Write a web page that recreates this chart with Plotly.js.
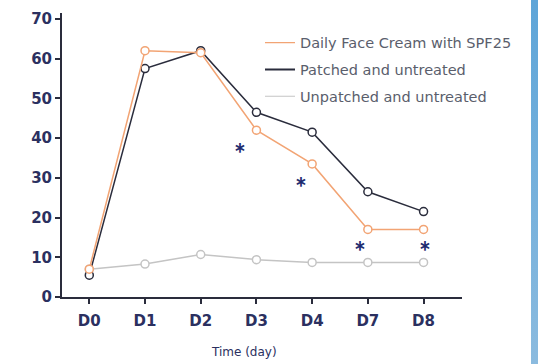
<!DOCTYPE html>
<html>
<head>
<meta charset="utf-8">
<script src="https://cdn.plot.ly/plotly-3.0.1.min.js"></script>
<style>
  html, body { margin: 0; padding: 0; background: #ffffff; }
  #wrap { position: relative; width: 538px; height: 364px; overflow: hidden; }
  #chart { position: absolute; left: 0; top: 0; width: 531px; height: 364px; }
  #strip { position: absolute; left: 531px; top: 0; width: 7px; height: 364px;
           background: linear-gradient(#5ea5d8, #8bbbdf); }
</style>
</head>
<body>
<div id="wrap"><div id="chart"></div><div id="strip"></div></div>
<script>
const categories = ["D0", "D1", "D2", "D3", "D4", "D7", "D8"];
const creamSPF25 = [7, 62, 61.5, 42, 33.5, 17, 17];
const patchedUntreated = [5.5, 57.5, 62, 46.5, 41.5, 26.5, 21.5];
const unpatchedUntreated = [7, 8.3, 10.7, 9.4, 8.7, 8.7, 8.7];
const seriesNames = ["Daily Face Cream with SPF25", "Patched and untreated", "Unpatched and untreated"];
const significantDays = ["D3", "D4", "D7", "D8"];
const asteriskValues = [37.8, 29.2, 13.1, 13.1];
const asteriskShift = [-16, -11, -8, 1];
const xTitle = "Time (day)";

const colors = ["#f2a474", "#2a2c3c", "#c4c4c4"];
const navy = "#2b3060";
const wideFont = "'DejaVu Sans', sans-serif";

function series(y, i) {
  return {
    x: categories, y: y, type: "scatter", mode: "lines+markers",
    name: seriesNames[i], showlegend: false,
    line: {color: colors[i], width: 1.5},
    marker: {symbol: "circle", size: 8, color: "#ffffff", line: {color: colors[i], width: 1.5}},
    cliponaxis: false
  };
}
function legendEntry(i) {
  return {
    x: [null], y: [null], type: "scatter", mode: "lines",
    name: seriesNames[i], showlegend: true, legendgroup: "g" + i,
    line: {color: colors[i], width: i === 1 ? 2 : 1.2}
  };
}

const traces = [
  series(unpatchedUntreated, 2),
  series(patchedUntreated, 1),
  series(creamSPF25, 0),
  legendEntry(0), legendEntry(1), legendEntry(2)
];

const annotations = significantDays.map((d, k) => ({
  x: d, y: asteriskValues[k], xref: "x", yref: "y", text: "*",
  showarrow: false, xshift: asteriskShift[k], yshift: -6,
  font: {family: "Lato, 'DejaVu Sans', sans-serif", size: 28, color: "#1c2a6e", weight: 700}
}));
annotations.push({
  x: 0.454, y: -0.195, xref: "paper", yref: "paper", text: xTitle,
  showarrow: false, xanchor: "center", yanchor: "middle",
  font: {family: wideFont, size: 12, color: navy}
});

const layout = {
  width: 531, height: 364,
  margin: {l: 62, r: 69, t: 13, b: 67},
  paper_bgcolor: "#ffffff", plot_bgcolor: "#ffffff",
  font: {family: wideFont, color: navy},
  xaxis: {
    type: "category", range: [-0.49, 6.69],
    showgrid: false, zeroline: false,
    showline: true, linecolor: "#2a2c3c", linewidth: 2,
    ticks: "outside", ticklen: 5, tickwidth: 2, tickcolor: "#2a2c3c",
    ticklabelstandoff: 4,
    tickfont: {family: wideFont, size: 15, color: navy, weight: 700}
  },
  yaxis: {
    range: [0, 71.5], tickvals: [0, 10, 20, 30, 40, 50, 60, 70],
    showgrid: false, zeroline: false,
    showline: true, linecolor: "#2a2c3c", linewidth: 2,
    ticks: "outside", ticklen: 5, tickwidth: 2, tickcolor: "#2a2c3c",
    tickfont: {family: wideFont, size: 15, color: navy, weight: 700}
  },
  legend: {
    x: 0.495, y: 0.952, xanchor: "left", yanchor: "top",
    bgcolor: "rgba(0,0,0,0)", traceorder: "grouped", tracegroupgap: 5,
    itemwidth: 30,
    font: {size: 14.5, color: "#5a5e6c", family: wideFont}
  },
  annotations: annotations
};

Plotly.newPlot("chart", traces, layout, {displayModeBar: false, staticPlot: true});
</script>
</body>
</html>
